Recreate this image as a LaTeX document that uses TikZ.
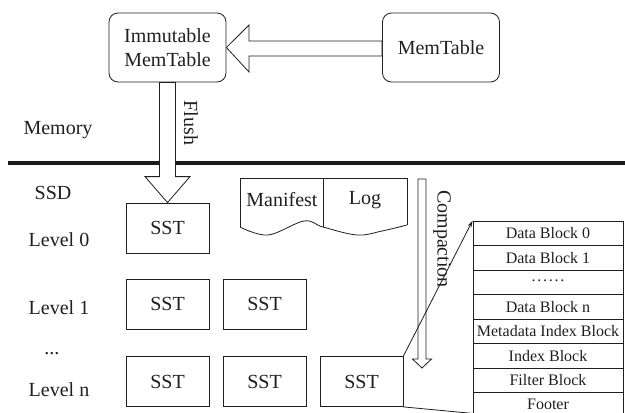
\documentclass[tikz,border=0pt]{standalone}
\usepackage{fontspec}
\setmainfont{Liberation Serif}
\usetikzlibrary{calc,arrows.meta}
\begin{document}
\begin{tikzpicture}[x=1pt,y=-1pt,line width=0.8pt,color=black!88,
  big/.style={font=\fontsize{20}{24.5}\selectfont},
  mem/.style={draw,big,rounded corners=9pt,minimum width=117pt,minimum height=69pt,align=center,inner sep=0pt},
  sst/.style={draw,big,minimum width=83pt,minimum height=50pt,inner sep=0pt},
  lbl/.style={big,inner sep=0pt},
  blk/.style={draw,font=\fontsize{16}{18}\selectfont,minimum width=150pt,minimum height=24.5pt,inner sep=0pt},
  hollow/.style={draw,fill=white,line join=miter}]
\useasboundingbox (0,0) rectangle (625,413);
\clip (0,0) rectangle (625,413);

% divider line memory / SSD
\coordinate (divL) at (8,163);
\coordinate (divR) at (625,163);
\draw[line width=4pt,black!90] (divL) -- (divR);

% memory part
\node[mem] (imm) at (167.5,47.5) {Immutable\\MemTable};
\node[mem] (mt) at (441,47.5) {MemTable};
\draw[hollow] (mt.west |- 0,41) -- (249,41) -- (249,25) -- (imm.east)
  -- (249,72) -- (249,56) -- (mt.west |- 0,56) -- cycle;

\node[lbl] (memory) at (58,130) {Memory};
\node[lbl] (ssd) at (53,193) {SSD};
\node[lbl] (lv0) at (59,240) {Level 0};
\node[lbl] (lv1) at (59,308) {Level 1};
\node[lbl,anchor=base] (lvd) at (52,354) {...};
\node[lbl] (lvn) at (59,390) {Level n};

% SSTs
\node[sst] (s0) at (167.5,228) {SST};
\node[sst] (s11) at (167.5,304) {SST};
\node[sst] (s12) at (264.5,304) {SST};
\node[sst] (sn1) at (167.5,381.5) {SST};
\node[sst] (sn2) at (264.5,381.5) {SST};
\node[sst] (sn3) at (361.5,381.5) {SST};

% flush arrow
\draw[hollow] ($(imm.south)+(-8,0)$) -- ($(s0.north)+(-8,-26)$) -- ($(s0.north)+(-22.5,-26)$)
  -- (s0.north) -- ($(s0.north)+(22.5,-26)$) -- ($(s0.north)+(8,-26)$) -- ($(imm.south)+(8,0)$) -- cycle;
\node[lbl,rotate=-90] (flush) at (191,123) {Flush};

% manifest / log
\draw (240,227) -- (240,178) -- (407,178) -- (407,225);
\draw plot[smooth,tension=0.6] coordinates {(240,227) (268,235) (304,221) (323,227) (357,235) (382,231) (407,225)};
\draw (323,178) -- (323,227);
\node[lbl] (manifest) at (282,200) {Manifest};
\node[lbl] (log) at (365,200) {Log};

% compaction arrow
\coordinate (ct) at (422,179);
\coordinate (cb) at (422,368);
\draw[hollow] ($(ct)+(-4,0)$) -- ($(cb)+(-4,-9)$) -- ($(cb)+(-9.5,-9)$) -- (cb)
  -- ($(cb)+(9.5,-9)$) -- ($(cb)+(4,-9)$) -- ($(ct)+(4,0)$) -- cycle;
\node[lbl,rotate=-90] (comp) at (442,239) {Compaction};

% SST block table
\foreach \t [count=\i from 0] in {Data Block 0,Data Block 1,{\raisebox{0.45ex}{.\hspace{1.8pt}.\hspace{1.8pt}.\hspace{1.8pt}.\hspace{1.8pt}.\hspace{1.8pt}.}},Data Block n,Metadata Index Block,Index Block,Filter Block,Footer}
  \node[blk] (r\i) at (548,{233.25+24.5*\i}) {\t};

\draw[-{Stealth[length=7pt,width=4pt]}] (sn3.north east) -- (r0.north west);
\coordinate (tb) at ($(r7.south west)+(0,-4)$);
\draw (sn3.south east) -- (tb);
\end{tikzpicture}
\end{document}
